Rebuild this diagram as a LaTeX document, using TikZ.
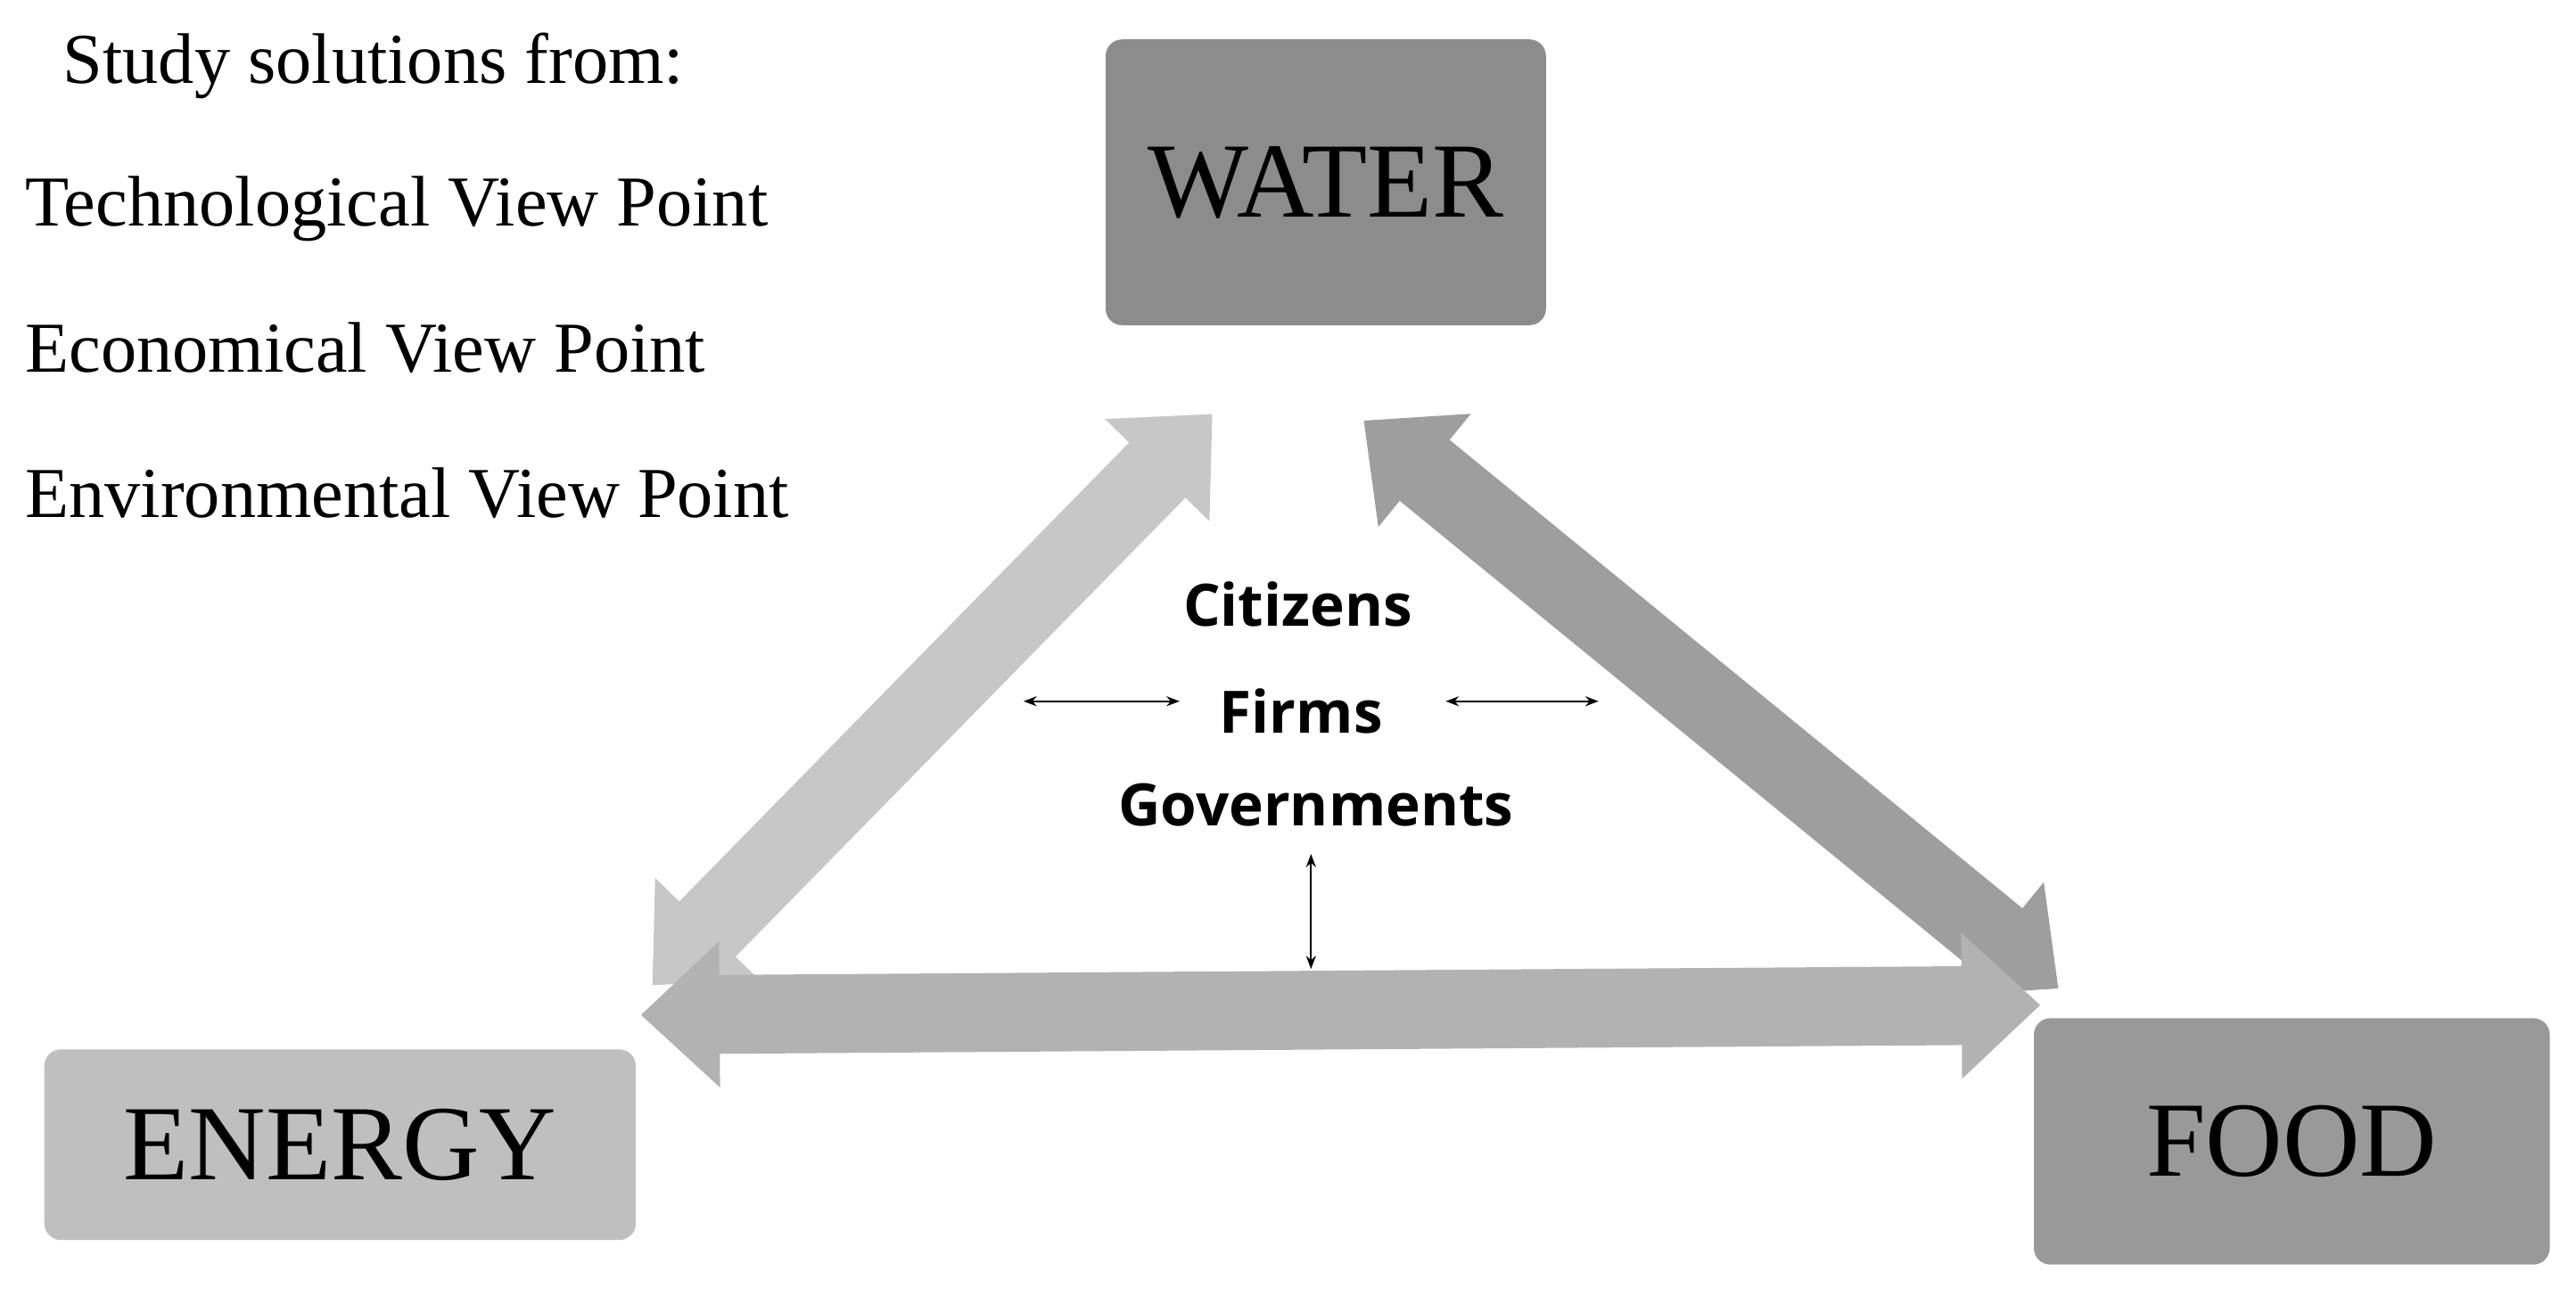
\documentclass[tikz,border=0pt]{standalone}
\usepackage{fontspec}
\setmainfont{Liberation Serif}
\newfontfamily\sansb{Open Sans}
\usetikzlibrary{arrows.meta}
\begin{document}
\begin{tikzpicture}[x=0.5pt,y=-0.5pt,
  box/.style={rounded corners=5pt,inner sep=0pt,font=\fontsize{32.5}{40}\selectfont},
  lbl/.style={anchor=west,inner sep=0pt,font=\fontsize{21.8}{25}\selectfont},
  ctr/.style={font=\sansb\bfseries\fontsize{17.8}{21}\selectfont},
  big/.style={line width=24pt,{Triangle[length=24pt,width=43pt]}-{Triangle[length=24pt,width=43pt]}},
  small/.style={{Stealth[length=4pt]}-{Stealth[length=4pt]},line width=0.6pt}]
\useasboundingbox (0,0) rectangle (1568,789);
\node[box,fill=black!45,minimum width=134pt,minimum height=87pt] (water) at (807,111) {WATER};
\node[box,fill=black!25,minimum width=180pt,minimum height=58pt] (energy) at (207,697) {ENERGY};
\node[box,fill=black!40,minimum width=157pt,minimum height=75pt] (food) at (1395,695) {FOOD};
\node[lbl] (t0) at (38,40) {Study solutions from:};
\node[lbl] (t1) at (15,127) {Technological View Point};
\node[lbl] (t2) at (15,212) {Economical View Point};
\node[lbl] (t3) at (15,300) {Environmental View Point};
\node[ctr] (cit) at (790,368) {Citizens};
\node[ctr] (firm) at (792,433) {Firms};
\node[ctr] (gov) at (801,490) {Governments};
\coordinate (l1) at (397,600); \coordinate (l2) at (738,252);
\coordinate (r1) at (830,256); \coordinate (r2) at (1253,602);
\coordinate (b1) at (390,618); \coordinate (b2) at (1242,612);
\draw[big,draw=black!22,fill=black!22] (l1) -- (l2);
\draw[big,draw=black!38,fill=black!38] (r1) -- (r2);
\draw[big,draw=black!30,fill=black!30] (b1) -- (b2);
\coordinate (s1) at (623,427); \coordinate (s2) at (718,427);
\coordinate (s3) at (880,427); \coordinate (s4) at (973,427);
\coordinate (s5) at (798,520); \coordinate (s6) at (798,590);
\draw[small] (s1) -- (s2);
\draw[small] (s3) -- (s4);
\draw[small] (s5) -- (s6);
\end{tikzpicture}
\end{document}
